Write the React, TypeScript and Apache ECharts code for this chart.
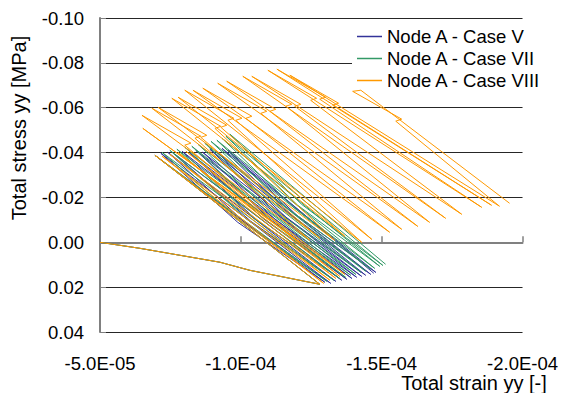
import React, { useEffect, useRef } from 'react';
import * as echarts from 'echarts';

// ---------- data (strain [-], stress [MPa]) ----------
const seriesNames = ['Node A - Case V', 'Node A - Case VII', 'Node A - Case VIII'];
const seriesColors = ['#333399', '#339966', '#FF9900'];

const xTickValues = [-5e-5, -1e-4, -1.5e-4, -2e-4];
const yTickValues = [-0.1, -0.08, -0.06, -0.04, -0.02, 0, 0.02, 0.04];

// common first loading + unloading branch
const initialPath = [
  [-50.0e-6, 0.0], [-64.2e-6, 0.0027], [-78.4e-6, 0.0058], [-92.6e-6, 0.0089],
  [-103.2e-6, 0.0125], [-115.6e-6, 0.0156], [-122.7e-6, 0.0174], [-128.0e-6, 0.0187],
  [-98.2e-6, -0.0107], [-69.5e-6, -0.0388],
];

const caseV = [
  [-129.8e-6, 0.0178], [-98.9e-6, -0.0089], [-71.6e-6, -0.0397],
  [-131.9e-6, 0.0183], [-101.4e-6, -0.0089], [-74.1e-6, -0.0401],
  [-133.7e-6, 0.0174], [-103.5e-6, -0.0094], [-76.6e-6, -0.0392],
  [-135.8e-6, 0.0169], [-105.7e-6, -0.0098], [-79.1e-6, -0.0406],
  [-137.6e-6, 0.0165], [-108.2e-6, -0.0103], [-81.9e-6, -0.0397],
  [-139.4e-6, 0.0161], [-109.9e-6, -0.0107], [-84.0e-6, -0.0410],
  [-141.1e-6, 0.0156], [-112.1e-6, -0.0103], [-86.5e-6, -0.0401],
  [-142.9e-6, 0.0152], [-114.2e-6, -0.0112], [-89.0e-6, -0.0415],
  [-144.3e-6, 0.0147], [-116.0e-6, -0.0112], [-91.1e-6, -0.0406],
  [-146.1e-6, 0.0143], [-118.1e-6, -0.0120], [-93.3e-6, -0.0419],
  [-147.9e-6, 0.0134], [-119.9e-6, -0.0120], [-95.4e-6, -0.0410],
  [-147.2e-6, 0.0138],
];

const caseVII = [
  [-130.5e-6, 0.0174], [-99.6e-6, -0.0098], [-72.0e-6, -0.0401],
  [-133.0e-6, 0.0169], [-102.1e-6, -0.0103], [-74.8e-6, -0.0410],
  [-135.1e-6, 0.0161], [-104.6e-6, -0.0107], [-77.3e-6, -0.0415],
  [-137.2e-6, 0.0156], [-107.1e-6, -0.0116], [-80.1e-6, -0.0424],
  [-139.0e-6, 0.0147], [-109.2e-6, -0.0120], [-82.6e-6, -0.0428],
  [-140.8e-6, 0.0143], [-111.0e-6, -0.0129], [-84.8e-6, -0.0437],
  [-142.6e-6, 0.0134], [-113.1e-6, -0.0134], [-87.2e-6, -0.0442],
  [-144.3e-6, 0.0129], [-115.2e-6, -0.0143], [-89.4e-6, -0.0450],
  [-146.1e-6, 0.0120], [-117.0e-6, -0.0147], [-91.5e-6, -0.0455],
  [-147.5e-6, 0.0116], [-118.8e-6, -0.0156], [-93.3e-6, -0.0464],
  [-149.3e-6, 0.0107], [-120.2e-6, -0.0165], [-94.7e-6, -0.0473],
  [-150.4e-6, 0.0103], [-121.6e-6, -0.0169], [-96.1e-6, -0.0482],
  [-151.4e-6, 0.0098],
];

const caseVIII = [
  [-129.4e-6, 0.0183], [-72.0e-6, -0.0384],
  [-131.6e-6, 0.0169], [-74.8e-6, -0.0392],
  [-133.7e-6, 0.0161], [-77.7e-6, -0.0401],
  [-135.1e-6, 0.0152], [-80.5e-6, -0.0406],
  [-136.9e-6, 0.0143],
  [-65.2e-6, -0.0508], [-120.9e-6, 0.0],
  [-80.1e-6, -0.0433], [-82.3e-6, -0.0442], [-64.9e-6, -0.0566], [-124.5e-6, -0.0009],
  [-83.7e-6, -0.0464], [-85.8e-6, -0.0473], [-68.4e-6, -0.0598], [-128.0e-6, -0.0018],
  [-85.8e-6, -0.0468], [-87.9e-6, -0.0477], [-70.6e-6, -0.0602], [-133.3e-6, -0.0009],
  [-90.8e-6, -0.0508], [-92.9e-6, -0.0517], [-75.5e-6, -0.0642], [-136.9e-6, -0.0027],
  [-92.9e-6, -0.0513], [-95.0e-6, -0.0522], [-77.7e-6, -0.0647], [-142.9e-6, 0.0],
  [-95.4e-6, -0.0544], [-97.5e-6, -0.0553], [-80.1e-6, -0.0678], [-146.5e-6, -0.0013],
  [-98.2e-6, -0.0544], [-100.4e-6, -0.0553], [-83.0e-6, -0.0678], [-152.8e-6, -0.0045],
  [-101.8e-6, -0.0553], [-103.9e-6, -0.0562], [-86.5e-6, -0.0687], [-157.1e-6, -0.0058],
  [-107.1e-6, -0.0575], [-109.2e-6, -0.0584], [-91.8e-6, -0.0709], [-162.8e-6, -0.0071],
  [-110.3e-6, -0.0584], [-112.4e-6, -0.0593], [-95.0e-6, -0.0718], [-167.0e-6, -0.0089],
  [-116.0e-6, -0.0607], [-118.1e-6, -0.0615], [-100.7e-6, -0.0740], [-172.7e-6, -0.0107],
  [-119.1e-6, -0.0607], [-121.3e-6, -0.0615], [-103.9e-6, -0.0740], [-178.4e-6, -0.0125],
  [-124.8e-6, -0.0633], [-126.9e-6, -0.0642], [-109.6e-6, -0.0767], [-185.5e-6, -0.0156],
  [-128.0e-6, -0.0638], [-130.1e-6, -0.0647], [-112.8e-6, -0.0772], [-189.0e-6, -0.0165],
  [-132.6e-6, -0.0611], [-134.7e-6, -0.0620], [-117.4e-6, -0.0745], [-191.8e-6, -0.0161],
  [-155.0e-6, -0.0540], [-157.1e-6, -0.0549], [-139.7e-6, -0.0673], [-142.6e-6, -0.0678],
  [-195.4e-6, -0.0174],
];

const caseLoops = [caseV, caseVII, caseVIII];

const FONT = '"Liberation Sans", Arial, Helvetica, sans-serif';

function fmtX(v: number): string {
  const [m, e] = v.toExponential(1).split('e');
  const n = parseInt(e, 10);
  return m + 'E' + (n < 0 ? '-' : '+') + String(Math.abs(n)).padStart(2, '0');
}
function fmtY(v: number): string {
  let r = Math.round(v * 100) / 100;
  if (r === 0) r = 0;
  return r.toFixed(2);
}

export default function App() {
  const ref = useRef<HTMLDivElement>(null);
  useEffect(() => {
    if (!ref.current) return;
    const chart = echarts.init(ref.current, undefined, { renderer: 'svg' });
    const xMin = xTickValues[xTickValues.length - 1];
    const xMax = xTickValues[0];
    const xStep = Math.abs(xTickValues[1] - xTickValues[0]);
    const yMin = yTickValues[0];
    const yMax = yTickValues[yTickValues.length - 1];
    const yStep = yTickValues[1] - yTickValues[0];
    chart.setOption({
      animation: false,
      backgroundColor: '#ffffff',
      grid: { left: 100, right: 38, top: 18, bottom: 61, containLabel: false },
      xAxis: [
        {
          type: 'value', position: 'bottom', min: xMin, max: xMax, interval: xStep, inverse: true,
          axisLine: { show: false, onZero: false },
          axisTick: { show: false },
          splitLine: { show: false },
          axisLabel: { formatter: fmtX, margin: 22, fontSize: 18.5, color: '#000', fontFamily: FONT },
        },
        {
          type: 'value', position: 'bottom', min: xMin, max: xMax, interval: xStep, inverse: true,
          axisLine: { show: true, onZero: true, onZeroAxisIndex: 0, lineStyle: { color: '#808080', width: 2 } },
          axisTick: { show: true, inside: true, length: 6, lineStyle: { color: '#808080', width: 1.5 } },
          splitLine: { show: false },
          axisLabel: { show: false },
        },
      ],
      yAxis: {
        type: 'value', min: yMin, max: yMax, interval: yStep, inverse: true,
        axisLine: { show: true, onZero: false, lineStyle: { color: '#808080', width: 2 } },
        axisTick: { show: true, inside: true, length: 6, lineStyle: { color: '#808080' } },
        splitLine: { show: true, lineStyle: { color: '#262626', width: 1 } },
        axisLabel: { formatter: fmtY, margin: 16, fontSize: 18.5, color: '#000', fontFamily: FONT },
      },
      legend: {
        orient: 'vertical', left: 352, top: 25, padding: [2, 20, 2, 5],
        itemWidth: 25, itemHeight: 1.5, itemGap: 3,
        icon: 'rect',
        backgroundColor: '#ffffff',
        textStyle: { fontSize: 18.5, color: '#000', fontFamily: FONT },
        data: seriesNames,
      },
      graphic: [
        {
          type: 'text', x: 19, y: 128, rotation: Math.PI / 2,
          style: { text: 'Total stress yy [MPa]', fontSize: 20, fontFamily: FONT, fill: '#000', align: 'center', verticalAlign: 'middle' },
        },
        {
          type: 'text', x: 474, y: 383,
          style: { text: 'Total strain yy [-]', fontSize: 20, fontFamily: FONT, fill: '#000', align: 'center', verticalAlign: 'middle' },
        },
      ],
      series: seriesNames.map((name, i) => ({
        name,
        type: 'line',
        xAxisIndex: 0,
        yAxisIndex: 0,
        data: initialPath.concat(caseLoops[i]),
        symbol: 'none',
        showSymbol: false,
        smooth: false,
        clip: true,
        lineStyle: { color: seriesColors[i], width: 1 },
        itemStyle: { color: seriesColors[i] },
        z: 2 + i,
      })),
    });
    return () => chart.dispose();
  }, []);
  return (
    <div
      ref={ref}
      style={{ position: 'absolute', left: 0, top: 0, width: 561, height: 393, background: '#fff' }}
    />
  );
}
